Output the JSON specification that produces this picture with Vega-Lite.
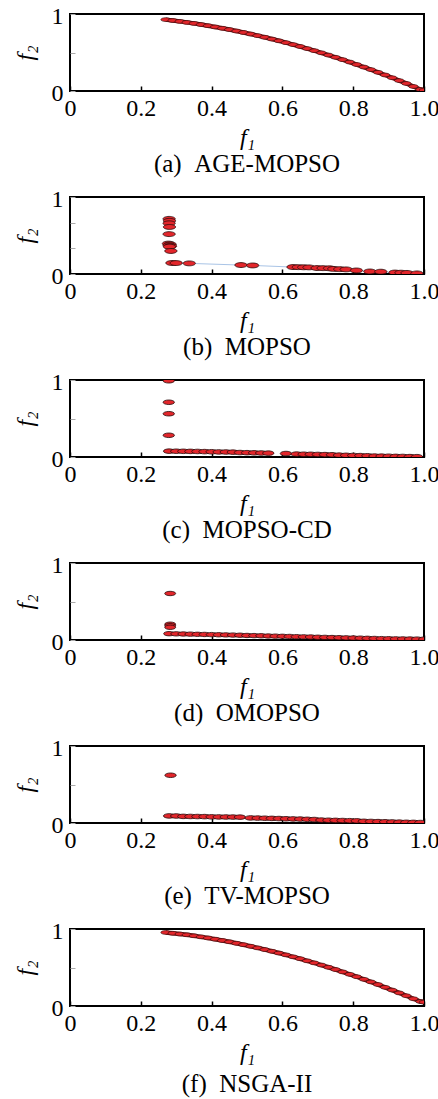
{
  "$schema": "https://vega.github.io/schema/vega-lite/v6.json",
  "background": "white",
  "padding": {"left": 12, "top": 3, "right": 0, "bottom": 0},
  "datasets": {
    "a": [
      {"f1":0.27,"f2":0.927},{"f1":0.29,"f2":0.916},{"f1":0.31,"f2":0.904},{"f1":0.33,"f2":0.891},{"f1":0.35,"f2":0.878},{"f1":0.37,"f2":0.863},{"f1":0.39,"f2":0.848},{"f1":0.41,"f2":0.832},{"f1":0.43,"f2":0.815},{"f1":0.45,"f2":0.798},{"f1":0.47,"f2":0.779},{"f1":0.49,"f2":0.760},{"f1":0.51,"f2":0.740},{"f1":0.53,"f2":0.719},{"f1":0.55,"f2":0.698},{"f1":0.57,"f2":0.675},{"f1":0.59,"f2":0.652},{"f1":0.61,"f2":0.628},{"f1":0.63,"f2":0.603},{"f1":0.65,"f2":0.578},{"f1":0.67,"f2":0.551},{"f1":0.69,"f2":0.524},{"f1":0.71,"f2":0.496},{"f1":0.73,"f2":0.467},{"f1":0.75,"f2":0.438},{"f1":0.77,"f2":0.407},{"f1":0.79,"f2":0.376},{"f1":0.81,"f2":0.344},{"f1":0.83,"f2":0.311},{"f1":0.85,"f2":0.278},{"f1":0.87,"f2":0.243},{"f1":0.89,"f2":0.208},{"f1":0.91,"f2":0.172},{"f1":0.93,"f2":0.135},{"f1":0.95,"f2":0.098},{"f1":0.97,"f2":0.059},{"f1":0.99,"f2":0.020},{"f1":1.0,"f2":0.01}
    ],
    "b": [
      {"f1":0.280,"f2":0.716,"h":0},{"f1":0.281,"f2":0.690,"h":0},{"f1":0.280,"f2":0.658,"h":0},{"f1":0.281,"f2":0.611,"h":0},{"f1":0.280,"f2":0.518,"h":0},{"f1":0.278,"f2":0.395,"h":0},{"f1":0.283,"f2":0.385,"h":0},{"f1":0.280,"f2":0.373,"h":0},{"f1":0.284,"f2":0.362,"h":0},{"f1":0.281,"f2":0.355,"h":0},{"f1":0.285,"f2":0.299,"h":0},
      {"f1":0.288,"f2":0.143,"h":1},{"f1":0.300,"f2":0.142,"h":1},{"f1":0.337,"f2":0.138,"h":1},{"f1":0.483,"f2":0.116,"h":1},{"f1":0.516,"f2":0.111,"h":1},{"f1":0.630,"f2":0.090,"h":1},{"f1":0.645,"f2":0.089,"h":1},{"f1":0.660,"f2":0.087,"h":1},{"f1":0.675,"f2":0.086,"h":1},{"f1":0.698,"f2":0.077,"h":1},{"f1":0.715,"f2":0.076,"h":1},{"f1":0.733,"f2":0.074,"h":1},{"f1":0.745,"f2":0.066,"h":1},{"f1":0.762,"f2":0.063,"h":1},{"f1":0.780,"f2":0.060,"h":1},{"f1":0.809,"f2":0.046,"h":1},{"f1":0.847,"f2":0.033,"h":1},{"f1":0.878,"f2":0.030,"h":1},{"f1":0.918,"f2":0.019,"h":1},{"f1":0.935,"f2":0.017,"h":1},{"f1":0.952,"f2":0.014,"h":1},{"f1":0.980,"f2":0.008,"h":1}
    ],
    "c": [
      {"f1":0.279,"f2":0.99},{"f1":0.279,"f2":0.711},{"f1":0.279,"f2":0.562},{"f1":0.279,"f2":0.282},
      {"f1":0.28,"f2":0.076},{"f1":0.30,"f2":0.075},{"f1":0.32,"f2":0.074},{"f1":0.34,"f2":0.073},{"f1":0.36,"f2":0.072},{"f1":0.38,"f2":0.070},{"f1":0.40,"f2":0.068},{"f1":0.42,"f2":0.066},{"f1":0.44,"f2":0.065},{"f1":0.46,"f2":0.063},{"f1":0.48,"f2":0.058},{"f1":0.50,"f2":0.056},{"f1":0.52,"f2":0.054},{"f1":0.54,"f2":0.052},{"f1":0.56,"f2":0.050},{"f1":0.61,"f2":0.045},{"f1":0.64,"f2":0.038},{"f1":0.66,"f2":0.036},{"f1":0.68,"f2":0.035},{"f1":0.70,"f2":0.033},{"f1":0.72,"f2":0.031},{"f1":0.74,"f2":0.029},{"f1":0.76,"f2":0.024},{"f1":0.78,"f2":0.022},{"f1":0.80,"f2":0.020},{"f1":0.82,"f2":0.018},{"f1":0.84,"f2":0.016},{"f1":0.86,"f2":0.012},{"f1":0.88,"f2":0.011},{"f1":0.90,"f2":0.010},{"f1":0.92,"f2":0.008},{"f1":0.94,"f2":0.007},{"f1":0.96,"f2":0.005},{"f1":0.98,"f2":0.004}
    ],
    "d": [
      {"f1":0.283,"f2":0.604},{"f1":0.283,"f2":0.205},{"f1":0.283,"f2":0.185},{"f1":0.283,"f2":0.165},
      {"f1":0.28,"f2":0.082},{"f1":0.30,"f2":0.080},{"f1":0.32,"f2":0.078},{"f1":0.34,"f2":0.076},{"f1":0.36,"f2":0.074},{"f1":0.38,"f2":0.072},{"f1":0.40,"f2":0.070},{"f1":0.42,"f2":0.068},{"f1":0.44,"f2":0.066},{"f1":0.46,"f2":0.064},{"f1":0.48,"f2":0.062},{"f1":0.50,"f2":0.059},{"f1":0.52,"f2":0.057},{"f1":0.54,"f2":0.055},{"f1":0.56,"f2":0.052},{"f1":0.58,"f2":0.050},{"f1":0.60,"f2":0.048},{"f1":0.62,"f2":0.046},{"f1":0.64,"f2":0.043},{"f1":0.66,"f2":0.041},{"f1":0.68,"f2":0.039},{"f1":0.70,"f2":0.036},{"f1":0.72,"f2":0.034},{"f1":0.74,"f2":0.032},{"f1":0.76,"f2":0.030},{"f1":0.78,"f2":0.028},{"f1":0.80,"f2":0.026},{"f1":0.82,"f2":0.024},{"f1":0.84,"f2":0.022},{"f1":0.86,"f2":0.020},{"f1":0.88,"f2":0.018},{"f1":0.90,"f2":0.017},{"f1":0.92,"f2":0.015},{"f1":0.94,"f2":0.014},{"f1":0.96,"f2":0.013},{"f1":0.98,"f2":0.012},{"f1":1.0,"f2":0.011}
    ],
    "e": [
      {"f1":0.284,"f2":0.62},
      {"f1":0.28,"f2":0.092},{"f1":0.30,"f2":0.091},{"f1":0.32,"f2":0.086},{"f1":0.34,"f2":0.085},{"f1":0.36,"f2":0.084},{"f1":0.38,"f2":0.083},{"f1":0.40,"f2":0.080},{"f1":0.42,"f2":0.079},{"f1":0.44,"f2":0.078},{"f1":0.46,"f2":0.077},{"f1":0.48,"f2":0.076},{"f1":0.51,"f2":0.066},{"f1":0.53,"f2":0.064},{"f1":0.55,"f2":0.062},{"f1":0.57,"f2":0.060},{"f1":0.59,"f2":0.058},{"f1":0.61,"f2":0.055},{"f1":0.63,"f2":0.053},{"f1":0.65,"f2":0.051},{"f1":0.67,"f2":0.048},{"f1":0.69,"f2":0.045},{"f1":0.71,"f2":0.038},{"f1":0.73,"f2":0.036},{"f1":0.75,"f2":0.034},{"f1":0.77,"f2":0.032},{"f1":0.79,"f2":0.030},{"f1":0.81,"f2":0.028},{"f1":0.83,"f2":0.022},{"f1":0.85,"f2":0.020},{"f1":0.87,"f2":0.018},{"f1":0.89,"f2":0.016},{"f1":0.91,"f2":0.014},{"f1":0.93,"f2":0.011},{"f1":0.95,"f2":0.009},{"f1":0.97,"f2":0.008},{"f1":0.99,"f2":0.006}
    ],
    "f": [
      {"f1":0.27,"f2":0.955},{"f1":0.29,"f2":0.945},{"f1":0.31,"f2":0.935},{"f1":0.33,"f2":0.925},{"f1":0.35,"f2":0.912},{"f1":0.37,"f2":0.898},{"f1":0.39,"f2":0.884},{"f1":0.41,"f2":0.868},{"f1":0.43,"f2":0.851},{"f1":0.45,"f2":0.834},{"f1":0.47,"f2":0.815},{"f1":0.49,"f2":0.796},{"f1":0.51,"f2":0.776},{"f1":0.53,"f2":0.755},{"f1":0.55,"f2":0.733},{"f1":0.57,"f2":0.711},{"f1":0.59,"f2":0.688},{"f1":0.61,"f2":0.664},{"f1":0.63,"f2":0.639},{"f1":0.65,"f2":0.614},{"f1":0.67,"f2":0.587},{"f1":0.69,"f2":0.560},{"f1":0.71,"f2":0.532},{"f1":0.73,"f2":0.503},{"f1":0.75,"f2":0.474},{"f1":0.77,"f2":0.443},{"f1":0.79,"f2":0.412},{"f1":0.81,"f2":0.380},{"f1":0.83,"f2":0.347},{"f1":0.85,"f2":0.313},{"f1":0.87,"f2":0.279},{"f1":0.89,"f2":0.243},{"f1":0.91,"f2":0.207},{"f1":0.93,"f2":0.170},{"f1":0.95,"f2":0.133},{"f1":0.97,"f2":0.094},{"f1":0.99,"f2":0.058},{"f1":1.0,"f2":0.05}
    ]
  },
  "vconcat": [
    {
      "width": 354, "height": 77,
      "title": {"text": "(a)\u00a0\u00a0AGE-MOPSO"},
      "data": {"name": "a"},
      "encoding": {
        "x": {"field": "f1", "type": "quantitative", "scale": {"domain": [0, 1], "nice": false}, "title": "f₁", "axis": {"values": [0, 0.2, 0.4, 0.6, 0.8, 1]}},
        "y": {"field": "f2", "type": "quantitative", "scale": {"domain": [0, 1], "nice": false}, "title": "f₂", "axis": {"values": [0, 0.5, 1]}}
      },
      "layer": [
        {"mark": {"type": "line", "color": "#7a1416", "strokeWidth": 4.5, "clip": true}},
        {"mark": {"type": "point", "shape": "M -1 0 A 1 0.4 0 1 0 1 0 A 1 0.4 0 1 0 -1 0 Z", "size": 90, "filled": true, "fill": "#e3262b", "stroke": "#2a0a0a", "strokeWidth": 0.6, "opacity": 1, "clip": true}}
      ]
    },
    {
      "width": 354, "height": 77,
      "title": {"text": "(b)\u00a0\u00a0MOPSO"},
      "data": {"name": "b"},
      "encoding": {
        "x": {"field": "f1", "type": "quantitative", "scale": {"domain": [0, 1], "nice": false}, "title": "f₁", "axis": {"values": [0, 0.2, 0.4, 0.6, 0.8, 1]}},
        "y": {"field": "f2", "type": "quantitative", "scale": {"domain": [0, 1], "nice": false}, "title": "f₂", "axis": {"values": [0, 0.333, 0.667, 1]}}
      },
      "layer": [
        {
          "transform": [{"filter": "datum.h == 1"}],
          "mark": {"type": "line", "color": "#a9c4e6", "strokeWidth": 1}
        },
        {
          "mark": {"type": "point", "shape": "M -1 0 A 1 0.4 0 1 0 1 0 A 1 0.4 0 1 0 -1 0 Z", "size": 150, "filled": true, "fill": "#e3262b", "stroke": "#2a0a0a", "strokeWidth": 0.8, "opacity": 1, "clip": true}
        }
      ]
    },
    {
      "width": 354, "height": 77,
      "title": {"text": "(c)\u00a0\u00a0MOPSO-CD"},
      "data": {"name": "c"},
      "mark": {"type": "point", "shape": "M -1 0 A 1 0.4 0 1 0 1 0 A 1 0.4 0 1 0 -1 0 Z", "size": 130, "filled": true, "fill": "#e3262b", "stroke": "#2a0a0a", "strokeWidth": 0.8, "opacity": 1, "clip": true},
      "encoding": {
        "x": {"field": "f1", "type": "quantitative", "scale": {"domain": [0, 1], "nice": false}, "title": "f₁", "axis": {"values": [0, 0.2, 0.4, 0.6, 0.8, 1]}},
        "y": {"field": "f2", "type": "quantitative", "scale": {"domain": [0, 1], "nice": false}, "title": "f₂", "axis": {"values": [0, 0.5, 1]}}
      }
    },
    {
      "width": 354, "height": 77,
      "title": {"text": "(d)\u00a0\u00a0OMOPSO"},
      "data": {"name": "d"},
      "mark": {"type": "point", "shape": "M -1 0 A 1 0.4 0 1 0 1 0 A 1 0.4 0 1 0 -1 0 Z", "size": 120, "filled": true, "fill": "#e3262b", "stroke": "#2a0a0a", "strokeWidth": 0.8, "opacity": 1, "clip": true},
      "encoding": {
        "x": {"field": "f1", "type": "quantitative", "scale": {"domain": [0, 1], "nice": false}, "title": "f₁", "axis": {"values": [0, 0.2, 0.4, 0.6, 0.8, 1]}},
        "y": {"field": "f2", "type": "quantitative", "scale": {"domain": [0, 1], "nice": false}, "title": "f₂", "axis": {"values": [0, 0.5, 1]}}
      }
    },
    {
      "width": 354, "height": 77,
      "title": {"text": "(e)\u00a0\u00a0TV-MOPSO"},
      "data": {"name": "e"},
      "mark": {"type": "point", "shape": "M -1 0 A 1 0.4 0 1 0 1 0 A 1 0.4 0 1 0 -1 0 Z", "size": 130, "filled": true, "fill": "#e3262b", "stroke": "#2a0a0a", "strokeWidth": 0.8, "opacity": 1, "clip": true},
      "encoding": {
        "x": {"field": "f1", "type": "quantitative", "scale": {"domain": [0, 1], "nice": false}, "title": "f₁", "axis": {"values": [0, 0.2, 0.4, 0.6, 0.8, 1]}},
        "y": {"field": "f2", "type": "quantitative", "scale": {"domain": [0, 1], "nice": false}, "title": "f₂", "axis": {"values": [0, 0.5, 1]}}
      }
    },
    {
      "width": 354, "height": 77,
      "title": {"text": "(f)\u00a0\u00a0NSGA-II", "offset": 8},
      "data": {"name": "f"},
      "encoding": {
        "x": {"field": "f1", "type": "quantitative", "scale": {"domain": [0, 1], "nice": false}, "title": "f₁", "axis": {"values": [0, 0.2, 0.4, 0.6, 0.8, 1]}},
        "y": {"field": "f2", "type": "quantitative", "scale": {"domain": [0, 1], "nice": false}, "title": "f₂", "axis": {"values": [0, 0.5, 1]}}
      },
      "layer": [
        {"mark": {"type": "line", "color": "#7a1416", "strokeWidth": 4.5, "clip": true}},
        {"mark": {"type": "point", "shape": "M -1 0 A 1 0.4 0 1 0 1 0 A 1 0.4 0 1 0 -1 0 Z", "size": 90, "filled": true, "fill": "#e3262b", "stroke": "#2a0a0a", "strokeWidth": 0.6, "opacity": 1, "clip": true}}
      ]
    }
  ],
  "config": {
    "view": {"stroke": "black", "strokeWidth": 2},
    "font": "Liberation Serif",
    "concat": {"spacing": 8},
    "axis": {
      "domain": false, "grid": false,
      "labelFont": "Liberation Serif", "labelFontSize": 24, "labelColor": "black",
      "tickColor": "black", "tickSize": -5, "tickWidth": 1.5,
      "titleFont": "Liberation Serif", "titleFontStyle": "italic", "titleFontWeight": "normal", "titleFontSize": 24, "titleColor": "black"
    },
    "axisX": {
      "labelExpr": "datum.value == 0 ? '0' : format(datum.value, '.1f')",
      "labelFlush": false, "labelPadding": 10, "titlePadding": 5
    },
    "axisY": {
      "labelExpr": "datum.value == 0 ? '0' : (datum.value == 1 ? '1' : '')",
      "tickColor": "#aaaaaa", "tickWidth": 1,
      "labelPadding": 12, "titlePadding": 14, "labelOffset": 2
    },
    "title": {"orient": "bottom", "frame": "group", "anchor": "middle", "font": "Liberation Serif", "fontSize": 25, "fontWeight": "normal", "color": "black", "offset": 3}
  }
}
